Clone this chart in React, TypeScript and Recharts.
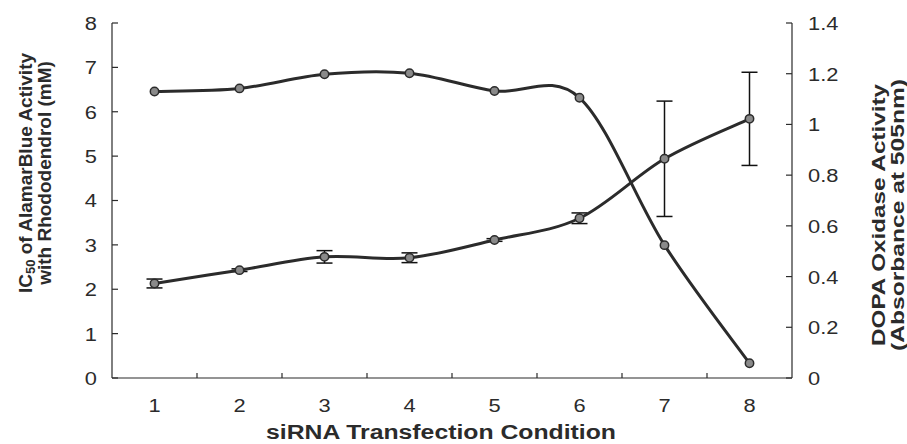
import React from 'react';
import { ComposedChart, Line, XAxis, YAxis, ErrorBar } from 'recharts';

const conditions = [1, 2, 3, 4, 5, 6, 7, 8];
const ic50 = [2.13, 2.43, 2.73, 2.71, 3.11, 3.6, 4.94, 5.84];
const ic50Err = [0.1, 0.03, 0.14, 0.11, 0.03, 0.12, 1.3, 1.05];
const dopa = [1.13, 1.142, 1.198, 1.202, 1.132, 1.105, 0.524, 0.058];
const leftTicks = [0, 1, 2, 3, 4, 5, 6, 7, 8];
const rightTicks = [0, 0.2, 0.4, 0.6, 0.8, 1, 1.2, 1.4];
const rightTickLabels = ['0', '0.2', '0.4', '0.6', '0.8', '1', '1.2', '1.4'];
const xTitle = 'siRNA Transfection Condition';
const leftTitle1a = 'IC';
const leftTitle1sub = '50';
const leftTitle1b = ' of AlamarBlue Activity';
const leftTitle2 = 'with Rhododendrol (mM)';
const rightTitle1 = 'DOPA Oxidase Activity';
const rightTitle2 = '(Absorbance at 505nm)';

const data = conditions.map((c, i) => ({
  x: c,
  ic50: ic50[i],
  ic50Err: ic50Err[i],
  dopa: dopa[i],
}));

const boundaries = conditions.slice(1).map((c) => c - 0.5);
const xTicks = [...conditions, ...boundaries].sort((a, b) => a - b);

const FONT = '"Liberation Sans", Arial, Helvetica, sans-serif';
const INK = '#2b2b2b';
const TICK_SX = 1.15;

// Excel-like smoothed line (Catmull-Rom bezier)
const excelSmooth = (context: any) => {
  let xs: number[] = [];
  let ys: number[] = [];
  return {
    areaStart() {},
    areaEnd() {},
    lineStart() {
      xs = [];
      ys = [];
    },
    point(x: number, y: number) {
      xs.push(+x);
      ys.push(+y);
    },
    lineEnd() {
      const n = xs.length;
      if (!n) return;
      context.moveTo(xs[0], ys[0]);
      const t = 1 / 6;
      for (let i = 0; i < n - 1; i++) {
        const a = Math.max(i - 1, 0);
        const d = Math.min(i + 2, n - 1);
        context.bezierCurveTo(
          xs[i] + (xs[i + 1] - xs[a]) * t,
          ys[i] + (ys[i + 1] - ys[a]) * t,
          xs[i + 1] - (xs[d] - xs[i]) * t,
          ys[i + 1] - (ys[d] - ys[i]) * t,
          xs[i + 1],
          ys[i + 1]
        );
      }
    },
  };
};

const TickText = ({ x, y, anchor, children }: any) => (
  <text
    transform={`translate(${x},${y}) scale(${TICK_SX},1)`}
    x={0}
    y={0}
    textAnchor={anchor}
    dominantBaseline="central"
    fontFamily={FONT}
    fontSize={19}
    fill={INK}
  >
    {children}
  </text>
);

const XTick = (props: any) => {
  const { x, y, payload } = props;
  const v = payload.value;
  if (Number.isInteger(v)) {
    return (
      <TickText x={x} y={y + 27} anchor="middle">
        {String(v)}
      </TickText>
    );
  }
  return <line x1={x} x2={x} y1={y} y2={y - 5} stroke={INK} strokeWidth={1.2} />;
};

const LeftTick = (props: any) => {
  const { x, y, payload } = props;
  return (
    <g>
      <line x1={x} x2={x + 6} y1={y} y2={y} stroke={INK} strokeWidth={1.2} />
      <TickText x={x - 15} y={y} anchor="end">
        {String(payload.value)}
      </TickText>
    </g>
  );
};

const RightTick = (props: any) => {
  const { x, y, payload, index } = props;
  return (
    <g>
      <line x1={x} x2={x - 6} y1={y} y2={y} stroke={INK} strokeWidth={1.2} />
      <TickText x={x + 16} y={y} anchor="start">
        {rightTickLabels[index] ?? String(payload.value)}
      </TickText>
    </g>
  );
};

const XTitle = () => (
  <text
    x={441}
    y={432}
    textAnchor="middle"
    dominantBaseline="central"
    fontFamily={FONT}
    fontWeight="bold"
    fontSize={20}
    fill={INK}
    textLength={350}
    lengthAdjust="spacingAndGlyphs"
  >
    {xTitle}
  </text>
);

const LeftTitle = () => (
  <g transform="rotate(-90, 34, 173)">
    <text x={34} y={164} textAnchor="middle" dominantBaseline="central" fontFamily={FONT} fontWeight="bold" fontSize={19} fill={INK}>
      {leftTitle1a}
      <tspan fontSize={13} dy={5}>{leftTitle1sub}</tspan>
      <tspan dy={-5}>{leftTitle1b}</tspan>
    </text>
    <text x={34} y={183} textAnchor="middle" dominantBaseline="central" fontFamily={FONT} fontWeight="bold" fontSize={19} fill={INK}>
      {leftTitle2}
    </text>
  </g>
);

const RightTitle = () => (
  <g transform="rotate(-90, 887, 215)">
    <text
      x={887}
      y={206}
      textAnchor="middle"
      dominantBaseline="central"
      fontFamily={FONT}
      fontWeight="bold"
      fontSize={19}
      fill={INK}
      textLength={262}
      lengthAdjust="spacingAndGlyphs"
    >
      {rightTitle1}
    </text>
    <text
      x={887}
      y={225}
      textAnchor="middle"
      dominantBaseline="central"
      fontFamily={FONT}
      fontWeight="bold"
      fontSize={19}
      fill={INK}
      textLength={272}
      lengthAdjust="spacingAndGlyphs"
    >
      {rightTitle2}
    </text>
  </g>
);

const dotStyle = { r: 4.2, fill: '#8a8a8a', stroke: INK, strokeWidth: 1.5 };

export default function App() {
  return (
    <div style={{ position: 'absolute', left: 0, top: 0, background: '#fff' }}>
      <ComposedChart width={907} height={444} data={data} margin={{ top: 23, right: 15, bottom: 6, left: 12 }}>
        <XAxis
          dataKey="x"
          type="number"
          domain={[0.5, 8.5]}
          ticks={xTicks}
          interval={0}
          tickSize={0}
          tickMargin={0}
          tickLine={false}
          tick={<XTick />}
          axisLine={{ stroke: INK, strokeWidth: 1.2 }}
          height={60}
          label={<XTitle />}
        />
        <YAxis
          yAxisId="left"
          orientation="left"
          domain={[0, 8]}
          ticks={leftTicks}
          interval={0}
          tickSize={0}
          tickMargin={0}
          tickLine={false}
          tick={<LeftTick />}
          axisLine={{ stroke: INK, strokeWidth: 1.2 }}
          width={100}
          label={<LeftTitle />}
        />
        <YAxis
          yAxisId="right"
          orientation="right"
          domain={[0, 1.4]}
          ticks={rightTicks}
          interval={0}
          tickSize={0}
          tickMargin={0}
          tickLine={false}
          tick={<RightTick />}
          axisLine={{ stroke: INK, strokeWidth: 1.2 }}
          width={100}
          label={<RightTitle />}
        />
        <Line
          yAxisId="right"
          dataKey="dopa"
          type={excelSmooth as any}
          stroke={INK}
          strokeWidth={3}
          dot={dotStyle}
          activeDot={false}
          isAnimationActive={false}
        />
        <Line
          yAxisId="left"
          dataKey="ic50"
          type={excelSmooth as any}
          stroke={INK}
          strokeWidth={3}
          dot={dotStyle}
          activeDot={false}
          isAnimationActive={false}
        >
          <ErrorBar dataKey="ic50Err" direction="y" width={8} stroke="#111" strokeWidth={1.5} isAnimationActive={false} />
        </Line>
      </ComposedChart>
    </div>
  );
}
